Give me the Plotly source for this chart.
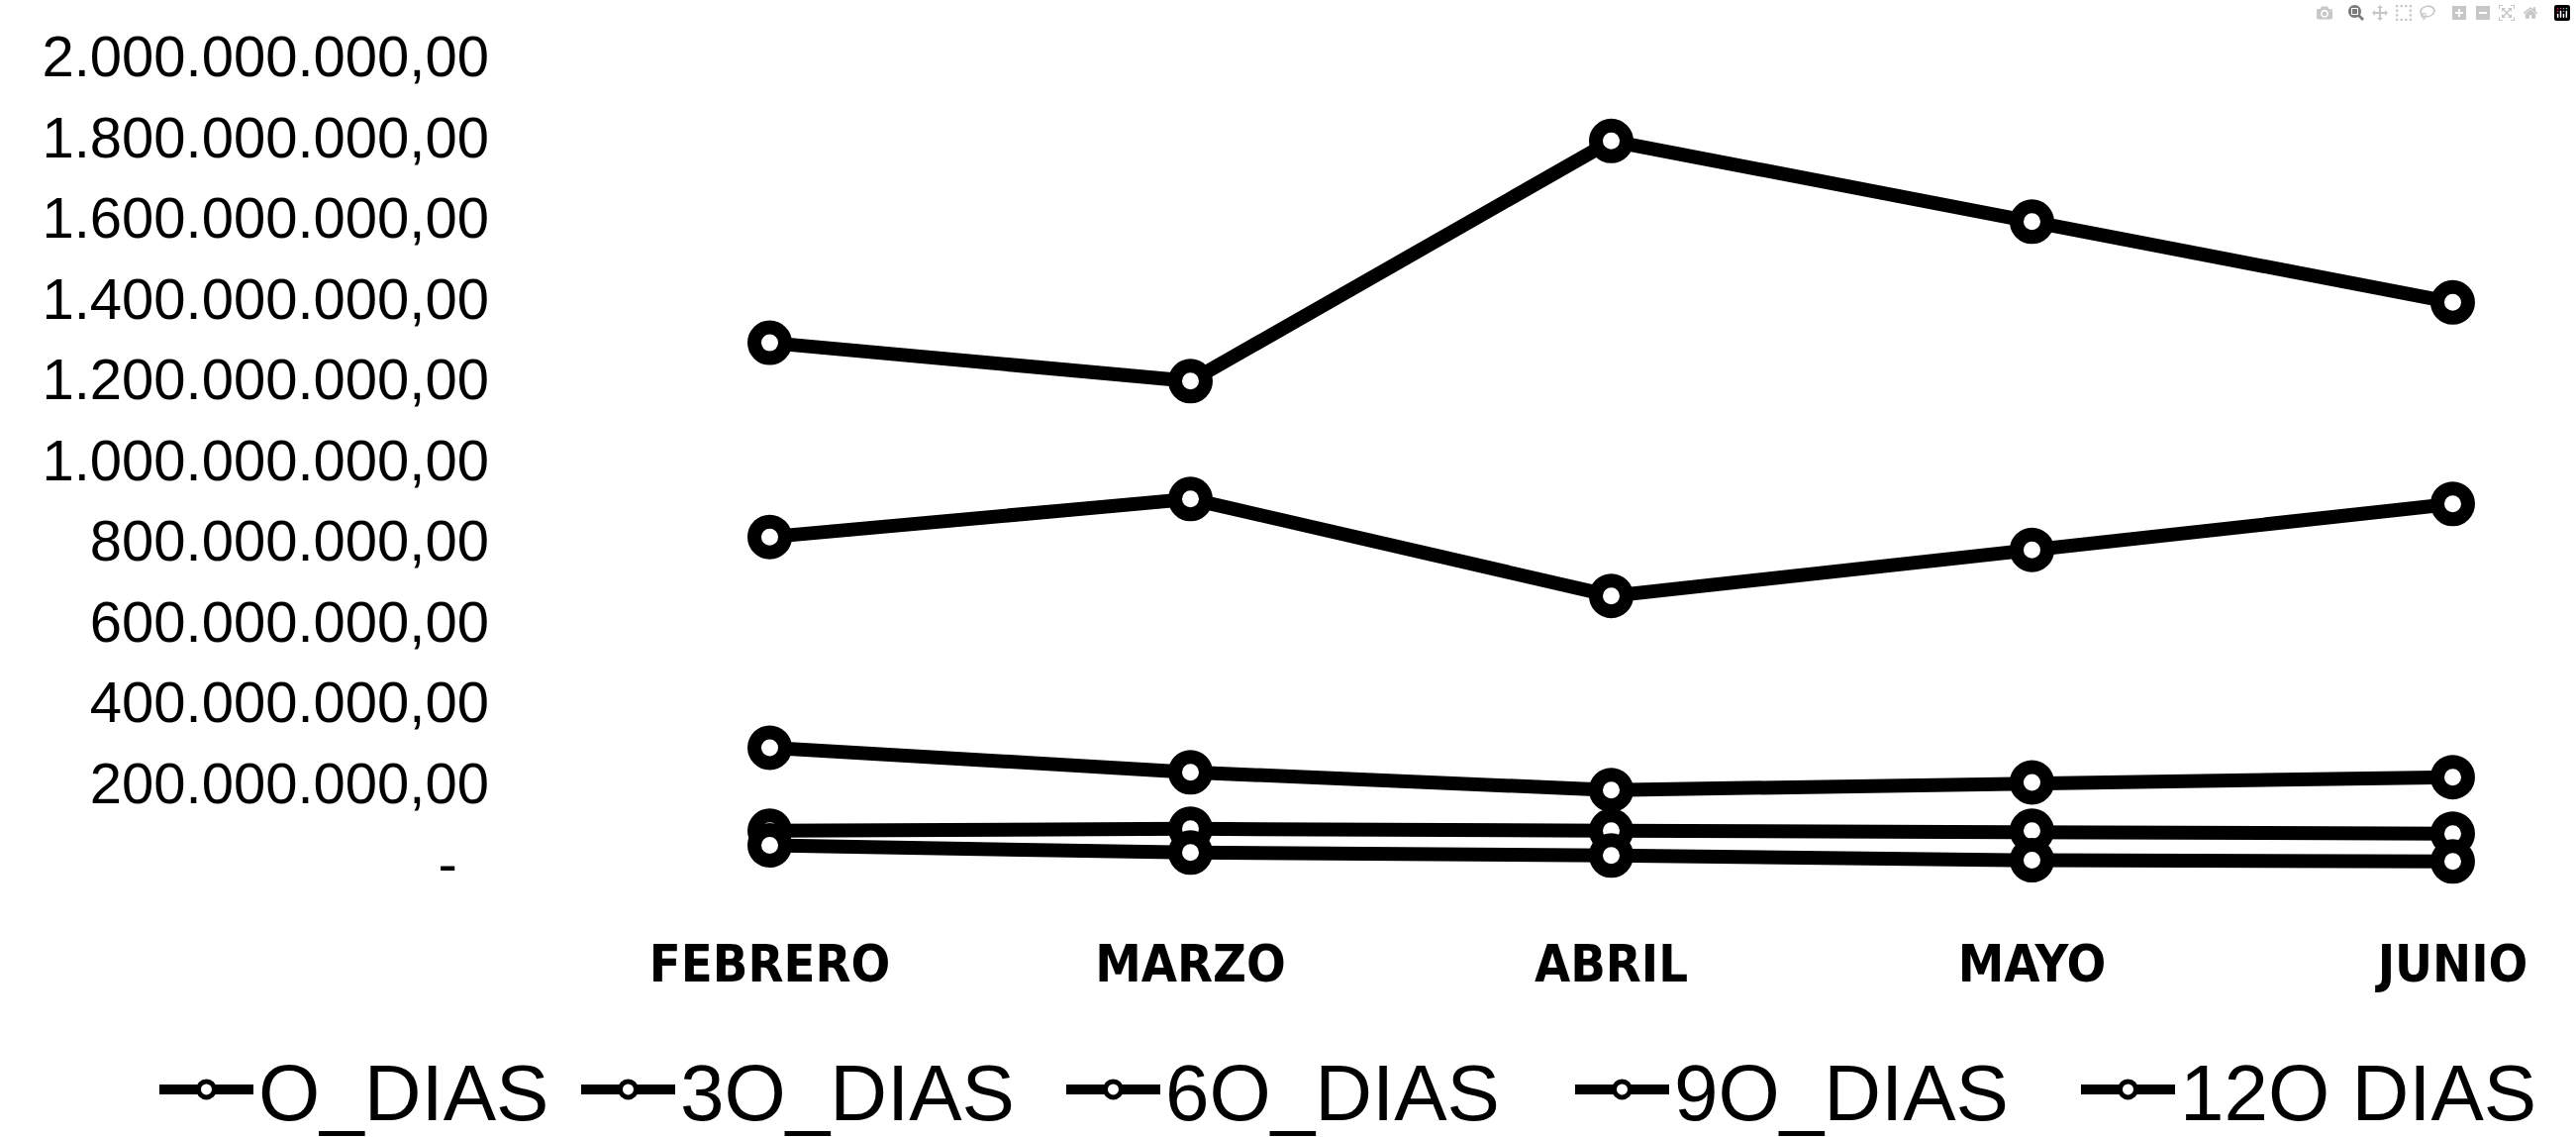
import plotly.graph_objects as go

# ---- data ----
months = ["FEBRERO", "MARZO", "ABRIL", "MAYO", "JUNIO"]
series_names = ["O_DIAS", "3O_DIAS", "6O_DIAS", "9O_DIAS", "12O DIAS"]
dias_0 = [1290e6, 1195e6, 1790e6, 1590e6, 1390e6]
dias_30 = [809e6, 903e6, 663e6, 777e6, 891e6]
dias_60 = [287e6, 226e6, 182e6, 201e6, 214e6]
dias_90 = [81e6, 86e6, 81e6, 81e6, 74e6]
dias_120 = [45e6, 27e6, 20e6, 8e6, 5e6]
y_tickvals = [0, 200e6, 400e6, 600e6, 800e6, 1000e6, 1200e6, 1400e6,
              1600e6, 1800e6, 2000e6]
y_ticktext = ["-\u00a0\u00a0", "200.000.000,00", "400.000.000,00",
              "600.000.000,00", "800.000.000,00", "1.000.000.000,00",
              "1.200.000.000,00", "1.400.000.000,00", "1.600.000.000,00",
              "1.800.000.000,00", "2.000.000.000,00"]

all_series = [dias_0, dias_30, dias_60, dias_90, dias_120]
# legend entry text widths (style only, px)
legend_entry_widths = [316, 380, 404, 401, 380]

fig = go.Figure()
for name, vals, lw in zip(series_names, all_series, legend_entry_widths):
    fig.add_trace(go.Scatter(
        x=months, y=vals, name=name, mode="lines+markers",
        line=dict(color="black", width=14),
        marker=dict(symbol="circle", size=31, color="white",
                    line=dict(color="black", width=14)),
        legendwidth=lw,
    ))

fig.update_layout(
    width=2602, height=1148,
    margin=dict(l=565, r=0, t=16, b=215, pad=0, autoexpand=False),
    paper_bgcolor="white", plot_bgcolor="white",
    font=dict(family="Liberation Sans, Arial, sans-serif", color="black"),
    showlegend=True,
    legend=dict(
        orientation="h", xref="paper", yref="paper",
        x=-0.2008, y=-0.182, xanchor="left", yanchor="middle",
        font=dict(size=80, family="Liberation Sans, Arial, sans-serif", color="black"),
        itemwidth=95, bgcolor="rgba(0,0,0,0)", traceorder="normal",
    ),
    xaxis=dict(
        type="category", range=[-0.5, 4.293],
        showgrid=False, zeroline=False, showline=False, ticks="",
        tickfont=dict(size=52, family="Liberation Sans Narrow, Arial Narrow, DejaVu Sans Condensed, Liberation Sans",
                      weight="bold", color="black"),
        ticklabelstandoff=5,
    ),
    yaxis=dict(
        range=[-0.15e9, 2.1e9],
        tickvals=y_tickvals, ticktext=y_ticktext,
        showgrid=False, zeroline=False, showline=False, ticks="",
        tickfont=dict(size=58, family="Liberation Sans, Arial, sans-serif", color="black"),
        ticklabelstandoff=70,
    ),
)

fig.write_html("out.html", post_script="document.body.style.margin='0';")
